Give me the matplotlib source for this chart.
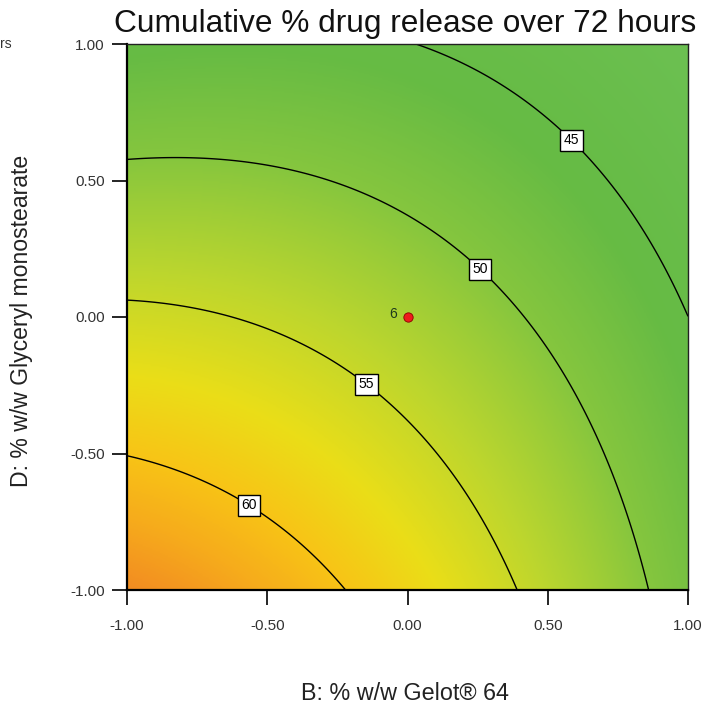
import numpy as np
import matplotlib
matplotlib.use("Agg")
import matplotlib.pyplot as plt
from matplotlib.colors import LinearSegmentedColormap

plt.rcParams['font.family'] = ['Liberation Sans', 'DejaVu Sans']

# Fitted quadratic response model (coded factors B and D)
intercept = 52.6
coef_B = -5.28
coef_D = -6.655
coef_BB = -2.31
coef_DD = -0.86
coef_BD = 2.5

contour_levels = [45, 50, 55, 60]
tick_values = [-1.0, -0.5, 0.0, 0.5, 1.0]
tick_labels = ["-1.00", "-0.50", "0.00", "0.50", "1.00"]

design_point_B = [0.0]
design_point_D = [0.0]
design_point_count = ["6"]

title = "Cumulative % drug release over 72 hours"
xlabel = "B: % w/w Gelot\u00ae 64"
ylabel = "D: % w/w Glyceryl monostearate"

# colour ramp: response value -> colour
ramp_values = [40, 46, 50, 54, 57.5, 60, 62, 64]
ramp_colors = ["#6cc052", "#66bb44", "#86c63e", "#bcd62e", "#eade18",
               "#f8c416", "#f6aa1c", "#f28a22"]


def response(B, D):
    return (intercept + coef_B * B + coef_D * D + coef_BB * B ** 2
            + coef_DD * D ** 2 + coef_BD * B * D)


W, H = 714, 710
fig = plt.figure(figsize=(W / 100, H / 100), dpi=100)
ax = fig.add_axes([127 / W, 1 - 590 / H, (688 - 127) / W, (590 - 44) / H])

b = np.linspace(-1, 1, 400)
d = np.linspace(-1, 1, 400)
BB, DD = np.meshgrid(b, d)
Z = response(BB, DD)

vmin, vmax = ramp_values[0], ramp_values[-1]
cmap = LinearSegmentedColormap.from_list(
    "resp", [((v - vmin) / (vmax - vmin), c) for v, c in zip(ramp_values, ramp_colors)])

ax.imshow(Z, extent=(-1, 1, -1, 1), origin="lower", cmap=cmap,
          vmin=vmin, vmax=vmax, interpolation="bilinear", aspect="auto")

cs = ax.contour(BB, DD, Z, levels=contour_levels, colors="black", linewidths=1.0)
label_spots = [(0.604, 0.667), (0.273, 0.19), (-0.134, -0.231), (-0.547, -0.659)]
labels = ax.clabel(cs, fmt="%d", fontsize=10, inline=False, manual=label_spots)
for t in labels:
    t.set_bbox(dict(boxstyle="square,pad=0.25", facecolor="white",
                    edgecolor="black", linewidth=1.0))
    t.set_rotation(0)

ax.scatter(design_point_B, design_point_D, s=45, color="#ee1c1c",
           edgecolors="#8a0000", linewidths=0.6, zorder=5)
for x, y, n in zip(design_point_B, design_point_D, design_point_count):
    ax.annotate(n, (x, y), xytext=(-10, 2), textcoords="offset points",
                fontsize=10, color="#1e3a1e", ha="center", va="center")

ax.set_xlim(-1, 1)
ax.set_ylim(-1, 1)
ax.set_xticks(tick_values)
ax.set_xticklabels(tick_labels)
ax.set_yticks(tick_values)
ax.set_yticklabels(tick_labels)
ax.tick_params(direction="out", length=11, width=1.2, labelsize=11,
               labelcolor="#333333")
ax.tick_params(axis="x", pad=10)
ax.tick_params(axis="y", pad=5)

for side in ["left", "bottom"]:
    ax.spines[side].set_linewidth(1.6)
for side in ["top", "right"]:
    ax.spines[side].set_linewidth(1.0)
    ax.spines[side].set_color("#222222")

fig.text(405 / W, 1 - 32 / H, title, ha="center", va="baseline",
         fontsize=22.8, color="#111111")
fig.text(405 / W, 1 - 693 / H, xlabel, ha="center", va="center",
         fontsize=16.8, color="#222222")
fig.text(22 / W, 1 - 321 / H, ylabel, ha="center", va="center",
         rotation=90, fontsize=16.6, color="#222222")
fig.text(0 / W, 1 - 44 / H, "rs", ha="left", va="center",
         fontsize=10, color="#333333")

fig.savefig("out.png", dpi=100)
